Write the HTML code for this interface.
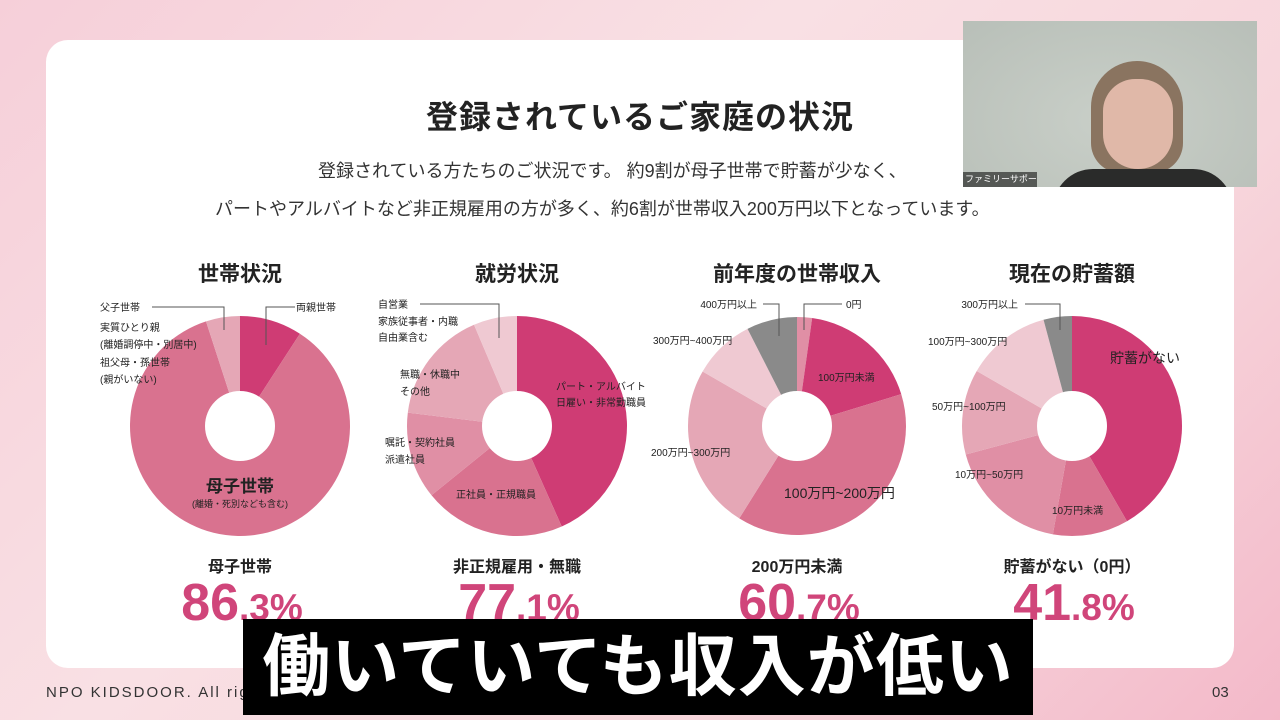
<!DOCTYPE html>
<html><head><meta charset="utf-8"><style>
*{margin:0;padding:0;box-sizing:border-box}
body{width:1280px;height:720px;overflow:hidden;position:relative;font-family:"Liberation Sans","Noto Sans CJK JP",sans-serif;background:linear-gradient(135deg,#f6cfd9 0%,#f9e0e4 40%,#f7d6dc 70%,#f3b9c9 100%);}
.card{position:absolute;left:46px;top:40px;width:1188px;height:628px;background:#fff;border-radius:22px}
.t{position:absolute;white-space:nowrap;color:#222}
.h1{left:0;width:1280px;text-align:center;top:92px;font-size:32px;font-weight:bold;letter-spacing:1px}
.sub{font-size:18px;color:#333}
.ct{font-size:21px;font-weight:bold;text-align:center;width:260px}
.lb{font-size:16px;text-align:center;width:260px;color:#222;font-weight:bold}
.pc{text-align:center;width:260px;color:#d0457a;font-weight:bold;font-size:52px;top:573px}
.pc small{font-size:37px}
.cam{position:absolute;left:963px;top:21px;width:294px;height:166px;background:radial-gradient(ellipse at 50% 60%,#c9cfc8,#b8bfb8);overflow:hidden}
.bar{position:absolute;left:243px;top:619px;width:790px;height:96px;background:#000;color:#fff;font-size:68px;font-weight:bold;text-align:center;line-height:96px;letter-spacing:1px}
svg text{font-family:"Liberation Sans","Noto Sans CJK JP",sans-serif;fill:#222}
</style></head><body>
<div class="card"></div>
<div class="t h1">登録されているご家庭の状況</div>
<div class="t sub" style="left:318px;top:157px">登録されている方たちのご状況です。 約9割が母子世帯で貯蓄が少なく、</div>
<div class="t sub" style="left:215px;top:195px">パートやアルバイトなど非正規雇用の方が多く、約6割が世帯収入200万円以下となっています。</div>
<div class="t ct" style="left:110px;top:258px">世帯状況</div>
<div class="t ct" style="left:387px;top:258px">就労状況</div>
<div class="t ct" style="left:667px;top:258px">前年度の世帯収入</div>
<div class="t ct" style="left:942px;top:258px">現在の貯蓄額</div>
<svg id="s" width="1280" height="720" style="position:absolute;left:0;top:0"></svg>
<div class="t lb" style="left:110px;top:553px">母子世帯</div>
<div class="t lb" style="left:387px;top:553px">非正規雇用・無職</div>
<div class="t lb" style="left:667px;top:553px">200万円未満</div>
<div class="t lb" style="left:942px;top:553px">貯蓄がない（0円）</div>
<div class="t pc" style="left:112px">86<small>.3%</small></div>
<div class="t pc" style="left:389px">77<small>.1%</small></div>
<div class="t pc" style="left:669px">60<small>.7%</small></div>
<div class="t pc" style="left:944px">41<small>.8%</small></div>
<div class="t" style="left:46px;top:684px;font-size:15px;letter-spacing:2px;color:#333">NPO KIDSDOOR. All rights reserved.</div>
<div class="t" style="left:1212px;top:684px;font-size:15px;color:#333">03</div>
<div class="cam">
<div style="position:absolute;left:128px;top:40px;width:92px;height:112px;border-radius:46px 46px 30px 30px;background:#8a7460"></div>
<div style="position:absolute;left:140px;top:58px;width:70px;height:90px;border-radius:35px 35px 38px 38px;background:#e0b8a8"></div>
<div style="position:absolute;left:90px;top:148px;width:180px;height:40px;border-radius:60px 60px 0 0;background:#2a2b2a"></div>
<div style="position:absolute;left:0;top:151px;width:74px;height:15px;background:rgba(0,0,0,.55);color:#fff;font-size:9px;line-height:15px;padding-left:2px">ファミリーサポート渥美</div>
</div>
<div class="bar">働いていても収入が低い</div>
<script>
var s=document.getElementById('s'),NS='http://www.w3.org/2000/svg';
var D='#cf3c74',M='#d9728f',L1='#e08fa5',L2='#e5a7b6',L3='#efc9d2',G='#8a8a8a';
function pie(cx,cy,r,ri,sl){sl.forEach(function(a){var a0=a[0]*Math.PI/180,a1=a[1]*Math.PI/180;
function p(rr,t){return [cx+rr*Math.sin(t),cy-rr*Math.cos(t)]}
var la=(a[1]-a[0])>180?1:0,o0=p(r,a0),o1=p(r,a1);
var e=document.createElementNS(NS,'path');
e.setAttribute('d','M'+cx+' '+cy+'L'+o0+'A'+r+' '+r+' 0 '+la+' 1 '+o1+'Z');e.setAttribute('fill',a[2]);s.appendChild(e);});
var c=document.createElementNS(NS,'circle');c.setAttribute('cx',cx);c.setAttribute('cy',cy);c.setAttribute('r',ri);c.setAttribute('fill','#fff');s.appendChild(c);}
pie(240,426,110,35,[[0,33,D],[33,342,M],[342,360,L2]]);
pie(517,426,110,35,[[0,156,D],[156,231,M],[231,277,L1],[277,337,L2],[337,360,L3]]);
pie(797,426,109,35,[[0,8,L1],[8,73,D],[73,212,M],[212,300,L2],[300,333,L3],[333,360,G]]);
pie(1072,426,110,35,[[0,150,D],[150,190,M],[190,255,L1],[255,300,L2],[300,345,L3],[345,360,G]]);
function tx(x,y,t,fs,w,anc){var e=document.createElementNS(NS,'text');e.setAttribute('x',x);e.setAttribute('y',y);e.setAttribute('font-size',fs||10);if(w)e.setAttribute('font-weight','bold');if(anc)e.setAttribute('text-anchor',anc);e.textContent=t;s.appendChild(e);}
function ln(pts){var e=document.createElementNS(NS,'polyline');e.setAttribute('points',pts);e.setAttribute('fill','none');e.setAttribute('stroke','#555');e.setAttribute('stroke-width','1');s.appendChild(e);}
tx(100,311,'父子世帯');tx(100,331,'実質ひとり親');tx(100,348,'(離婚調停中・別居中)');tx(100,366,'祖父母・孫世帯');tx(100,383,'(親がいない)');
ln('152,307 224,307 224,330');ln('295,307 266,307 266,345');tx(296,311,'両親世帯');
tx(240,492,'母子世帯',17,1,'middle');tx(240,507,'(離婚・死別なども含む)',9,0,'middle');
tx(378,308,'自営業');tx(378,325,'家族従事者・内職');tx(378,341,'自由業含む');ln('420,304 499,304 499,338');
tx(400,378,'無職・休職中');tx(400,395,'その他');tx(385,446,'嘱託・契約社員');tx(385,463,'派遣社員');
tx(456,498,'正社員・正規職員');tx(556,390,'パート・アルバイト');tx(556,406,'日雇い・非常勤職員');
tx(757,308,'400万円以上',10,0,'end');ln('763,304 779,304 779,336');ln('842,304 804,304 804,330');tx(846,308,'0円');
tx(653,344,'300万円~400万円');tx(818,381,'100万円未満');tx(651,456,'200万円~300万円');tx(784,498,'100万円~200万円',14);
tx(1018,308,'300万円以上',10,0,'end');ln('1025,304 1060,304 1060,330');tx(928,345,'100万円~300万円');
tx(1110,363,'貯蓄がない',14);tx(932,410,'50万円~100万円');tx(955,478,'10万円~50万円');tx(1052,514,'10万円未満');
</script>
</body></html>
